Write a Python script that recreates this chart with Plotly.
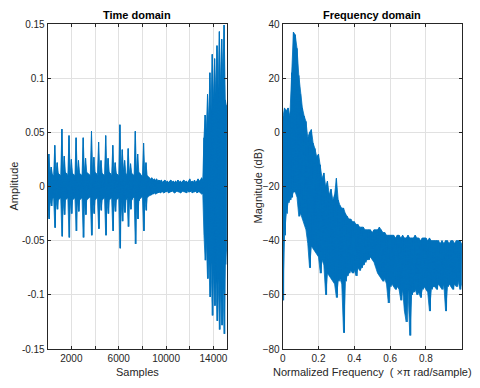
import plotly.graph_objects as go

# ---------------- Time-domain data (per-100-sample bin max / min)
time_bin_start = 0
time_bin_width = 100
time_upper = [
    0.020, 0.030, 0.012, 0.018, 0.011, 0.010, 0.038, 0.012, 0.022, 0.012, 0.011, 0.010,
    0.053, 0.013, 0.028, 0.013, 0.012, 0.010, 0.047, 0.012, 0.025, 0.012, 0.011, 0.010,
    0.045, 0.012, 0.024, 0.012, 0.011, 0.010, 0.045, 0.013, 0.026, 0.013, 0.012, 0.011, 0.010,
    0.051, 0.013, 0.027, 0.013, 0.012, 0.010, 0.041, 0.012, 0.024, 0.012, 0.011, 0.010,
    0.047, 0.013, 0.026, 0.013, 0.012, 0.010, 0.038, 0.012, 0.022, 0.012, 0.011, 0.010,
    0.057, 0.014, 0.034, 0.015, 0.024, 0.012, 0.010, 0.035, 0.012, 0.021, 0.012, 0.011, 0.010,
    0.051, 0.013, 0.030, 0.013, 0.012, 0.010, 0.009, 0.040, 0.011, 0.022, 0.010,
    0.009, 0.008, 0.007, 0.008, 0.006, 0.007, 0.006, 0.007, 0.005, 0.006, 0.005, 0.006,
    0.004, 0.005, 0.006, 0.004, 0.005, 0.004, 0.005, 0.006, 0.004, 0.005, 0.004, 0.005,
    0.004, 0.006, 0.004, 0.005, 0.004, 0.005, 0.006, 0.004, 0.005, 0.004, 0.005, 0.007,
    0.004, 0.005, 0.004, 0.006, 0.004, 0.005, 0.007, 0.005, 0.006, 0.008, 0.006,
    0.045, 0.066, 0.052, 0.085, 0.060, 0.105, 0.070, 0.122, 0.080, 0.118, 0.085, 0.130,
    0.090, 0.143, 0.095, 0.136, 0.100, 0.149, 0.080, 0.075,
]
time_lower = [
    -0.018, -0.030, -0.012, -0.018, -0.011, -0.010, -0.038, -0.012, -0.021, -0.012, -0.011, -0.010,
    -0.046, -0.013, -0.026, -0.012, -0.011, -0.010, -0.047, -0.012, -0.025, -0.012, -0.011, -0.010,
    -0.041, -0.012, -0.023, -0.012, -0.011, -0.010, -0.047, -0.013, -0.026, -0.012, -0.011, -0.010, -0.010,
    -0.045, -0.013, -0.025, -0.012, -0.011, -0.010, -0.039, -0.012, -0.022, -0.012, -0.011, -0.010,
    -0.045, -0.013, -0.025, -0.012, -0.011, -0.010, -0.041, -0.012, -0.023, -0.012, -0.011, -0.010,
    -0.057, -0.014, -0.032, -0.014, -0.024, -0.012, -0.010, -0.037, -0.012, -0.021, -0.012, -0.010, -0.010,
    -0.053, -0.013, -0.030, -0.013, -0.011, -0.010, -0.009, -0.041, -0.011, -0.022, -0.010,
    -0.009, -0.008, -0.008, -0.007, -0.007, -0.006, -0.007, -0.006, -0.006, -0.005, -0.006, -0.005,
    -0.005, -0.006, -0.005, -0.005, -0.004, -0.006, -0.005, -0.005, -0.004, -0.005, -0.006, -0.005,
    -0.004, -0.005, -0.005, -0.006, -0.005, -0.004, -0.005, -0.005, -0.006, -0.004, -0.005, -0.005,
    -0.004, -0.006, -0.005, -0.005, -0.004, -0.006, -0.005, -0.005, -0.006, -0.007, -0.006,
    -0.045, -0.068, -0.050, -0.085, -0.060, -0.102, -0.070, -0.119, -0.075, -0.110, -0.080, -0.124,
    -0.085, -0.132, -0.090, -0.128, -0.090, -0.136, -0.072, -0.060,
]
time_xlim = [1, 15120]
time_ticks = [2000, 4000, 6000, 8000, 10000, 12000, 14000]
time_ticktext = ["2000", "", "6000", "", "10000", "", "14000"]
amp_ticks = [-0.15, -0.1, -0.05, 0, 0.05, 0.1, 0.15]
amp_ticktext = ["-0.15", "-0.1", "-0.05", "0", "0.05", "0.1", "0.15"]

# ---------------- Frequency-domain data (per-0.01 bin max / min in dB)
freq_bin_width = 0.01
freq_upper = [
    5, 9, 8, 9, 6, 22, 37, 36, 31, 21,
    14, 9, 6, 4, -2, 0, 1, -4, -6, -9,
    -8, -12, -17, -15, -20, -18, -23, -21, -25, -23,
    -17, -25, -27, -28, -28, -30, -31, -32, -32, -33,
    -33, -34, -34, -35, -35, -35, -36, -36, -36, -36,
    -37, -36, -36, -36, -35, -36, -37, -37, -38, -38,
    -38, -38, -38, -39, -38, -38, -39, -38, -39, -39,
    -38, -39, -39, -39, -38, -39, -39, -40, -39, -39,
    -39, -40, -39, -40, -40, -40, -40, -40, -41, -40,
    -41, -40, -40, -41, -40, -40, -41, -40, -40, -40,
    -41,
]
freq_lower = [
    -62, -38, -30, -26, -25, -24, -22, -22, -24, -31,
    -30, -32, -34, -36, -41, -50, -42, -43, -44, -45,
    -46, -52, -47, -49, -60, -52, -53, -54, -55, -56,
    -61, -55, -54, -56, -74, -55, -53, -52, -51, -52,
    -51, -53, -50, -51, -50, -49, -48, -47, -47, -46,
    -47, -48, -50, -52, -53, -54, -55, -54, -56, -63,
    -57, -56, -57, -58, -57, -58, -62, -58, -66, -70,
    -58, -75, -60, -59, -58, -60, -59, -61, -58, -57,
    -58, -59, -66, -58, -57, -57, -58, -56, -57, -58,
    -56, -66, -57, -56, -57, -58, -56, -57, -55, -58,
    -56,
]
freq_xlim = [0, 1]
freq_ticks = [0, 0.2, 0.4, 0.6, 0.8, 1.0]
freq_ticktext = ["0", "0.2", "0.4", "0.6", "0.8", ""]
db_ticks = [-80, -60, -40, -20, 0, 20, 40]

LINE = "#0072BD"
AX = "#262626"
GRID = "#e1e1e1"
FONT = "Liberation Sans, Arial, Helvetica, sans-serif"


def zigzag(start, width, up, lo):
    xs, ys = [], []
    for i, (u, l) in enumerate(zip(up, lo)):
        x0 = start + i * width
        xs += [x0, x0 + width / 2]
        ys += [u, l]
    return xs, ys


def band(start, width, up, lo):
    n = min(len(up), len(lo))
    xs = [start + i * width for i in range(n)]
    return xs + xs[::-1], list(up[:n]) + list(lo[:n])[::-1]


fig = go.Figure()
for (start, width, up, lo, xa, ya) in [
    (time_bin_start, time_bin_width, time_upper, time_lower, "x", "y"),
    (0.0, freq_bin_width, freq_upper, freq_lower, "x2", "y2"),
]:
    bx, by = band(start, width, up, lo)
    fig.add_trace(go.Scatter(x=bx, y=by, mode="lines", fill="toself", fillcolor=LINE,
                             line=dict(color=LINE, width=0.8), xaxis=xa, yaxis=ya,
                             showlegend=False, hoverinfo="skip"))
    zx, zy = zigzag(start, width, up, lo)
    fig.add_trace(go.Scatter(x=zx, y=zy, mode="lines", line=dict(color=LINE, width=1),
                             xaxis=xa, yaxis=ya, showlegend=False, hoverinfo="skip"))

W, H = 480, 388
L1, R1 = 47.7, 226.7
L2, R2 = 282.7, 461.7
TOP, BOT = 24, 349
ydom = [1 - BOT / H, 1 - TOP / H]

common = dict(showline=True, linecolor=AX, linewidth=1, mirror="ticks", ticks="inside",
              ticklen=3, tickcolor=AX, showgrid=True, gridcolor=GRID, gridwidth=1,
              zeroline=False, tickfont=dict(family=FONT, size=10, color=AX))

fig.update_layout(
    width=W, height=H, margin=dict(l=0, r=0, t=0, b=0, autoexpand=False),
    paper_bgcolor="white", plot_bgcolor="white",
    xaxis=dict(domain=[L1 / W, R1 / W], range=time_xlim, tickmode="array",
               tickvals=time_ticks, ticktext=time_ticktext, anchor="y", **common),
    yaxis=dict(domain=ydom, range=[-0.15, 0.15], tickmode="array",
               tickvals=amp_ticks, ticktext=amp_ticktext, anchor="x", **common),
    xaxis2=dict(domain=[L2 / W, R2 / W], range=freq_xlim, tickmode="array",
                tickvals=freq_ticks, ticktext=freq_ticktext, anchor="y2", **common),
    yaxis2=dict(domain=ydom, range=[-80, 40], tickmode="array",
                tickvals=db_ticks, anchor="x2", **common),
    font=dict(family=FONT, color=AX),
)

ann = [
    dict(text="<b>Time domain</b>", x=(L1 + R1) / 2 / W, y=1 - 15 / H, size=11, angle=0, color="black"),
    dict(text="<b>Frequency domain</b>", x=(L2 + R2) / 2 / W, y=1 - 15 / H, size=11, angle=0, color="black"),
    dict(text="Samples", x=(L1 + R1) / 2 / W, y=1 - 372 / H, size=11, angle=0, color=AX),
    dict(text="Normalized Frequency  ( \u00d7\u03c0 rad/sample)", x=(L2 + R2) / 2 / W, y=1 - 372 / H,
         size=11, angle=0, color=AX),
    dict(text="Amplitude", x=13 / W, y=1 - 186.5 / H, size=11, angle=-90, color=AX),
    dict(text="Magnitude (dB)", x=257 / W, y=1 - 186.5 / H, size=11, angle=-90, color=AX),
]
for a in ann:
    fig.add_annotation(text=a["text"], x=a["x"], y=a["y"], xref="paper", yref="paper",
                       showarrow=False, xanchor="center", yanchor="middle", textangle=a["angle"],
                       font=dict(family=FONT, size=a["size"], color=a["color"]))

fig.write_html("out.html", config={"displayModeBar": False},
               post_script="document.body.style.margin='0';document.body.style.overflow='hidden';")
